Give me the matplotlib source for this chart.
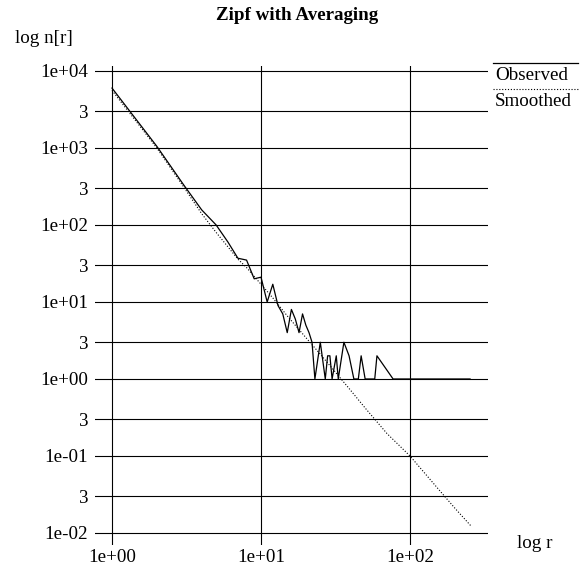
import matplotlib
matplotlib.use("Agg")
import matplotlib.pyplot as plt
from matplotlib.lines import Line2D

plt.rcParams["font.family"] = ["Liberation Serif", "DejaVu Serif"]
FS = 13.7

# frequency r and number of types with that frequency, n[r]
r_obs = [1, 2, 3, 4, 5, 6, 7, 8, 9, 10, 11, 12, 13, 14, 15, 16, 17, 18, 19, 20,
         21, 22, 23, 25, 27, 28, 29, 30, 32, 33, 36, 39, 42, 45, 47, 50, 58, 60,
         77, 95, 120, 160, 253]
n_obs = [6000, 1050, 340, 157, 100, 60, 37, 35, 20, 21, 10, 17, 9, 7, 4, 8, 6, 4, 7, 5,
         4, 3, 1, 3, 1, 2, 2, 1, 2, 1, 3, 2, 1, 1, 2, 1, 1, 2,
         1, 1, 1, 1, 1]

# smoothed (averaged) estimate
r_smooth = [1, 2, 3, 4, 5, 6, 7, 8, 9, 10, 12, 15, 20, 25, 30, 40, 50, 70,
            100, 150, 200, 255]
n_smooth = [5600, 1000, 320, 140, 80, 52, 36, 28, 21.5, 17, 11.3, 6.6, 3.45, 2.1,
            1.38, 0.71, 0.42, 0.196, 0.1, 0.04, 0.021, 0.0125]

x_ticks = [1, 10, 100]
x_labels = ["1e+00", "1e+01", "1e+02"]
y_ticks = [1e-2, 3e-2, 1e-1, 3e-1, 1, 3, 10, 30, 100, 300, 1e3, 3e3, 1e4]
y_labels = ["1e-02", "3", "1e-01", "3", "1e+00", "3", "1e+01", "3",
            "1e+02", "3", "1e+03", "3", "1e+04"]

W, H = 580, 571
fig = plt.figure(figsize=(W / 100, H / 100), dpi=100)
ax = fig.add_axes([95 / W, 1 - 545 / H, 393 / W, 479 / H])
ax.set_xscale("log")
ax.set_yscale("log")
ax.set_xlim(0.769, 333.8)
ax.set_ylim(0.00698, 11610)

for y in y_ticks:
    ax.axhline(y, color="black", lw=0.8, zorder=1)
for x in x_ticks:
    ax.axvline(x, color="black", lw=0.8, zorder=1)

ax.plot(r_obs, n_obs, color="black", lw=0.9, zorder=3)
ax.plot(r_smooth, n_smooth, color="black", lw=0.8, linestyle=(0, (1, 1.6)), zorder=2)

ax.minorticks_off()
ax.set_xticks(x_ticks, x_labels)
ax.set_yticks(y_ticks, y_labels)
ax.tick_params(length=0, labelsize=FS)
ax.tick_params(axis="y", pad=5)
ax.tick_params(axis="x", pad=3)
for s in ax.spines.values():
    s.set_visible(False)

fig.text(297.5 / W, 1 - 20 / H, "Zipf with Averaging", ha="center", va="baseline",
         fontsize=FS, fontweight="bold")
fig.text(15 / W, 1 - 43 / H, "log n[r]", ha="left", va="baseline", fontsize=FS)
fig.text(517 / W, 1 - 548 / H, "log r", ha="left", va="baseline", fontsize=FS)

# key: label text with its line sample drawn above it
fig.add_artist(Line2D([493 / W, 578 / W], [1 - 63 / H, 1 - 63 / H], color="black", lw=0.9))
fig.text(495 / W, 1 - 80 / H, "Observed", ha="left", va="baseline", fontsize=FS)
fig.add_artist(Line2D([493 / W, 578 / W], [1 - 89 / H, 1 - 89 / H], color="black", lw=0.8,
                      linestyle=(0, (1, 1.6))))
fig.text(495 / W, 1 - 106 / H, "Smoothed", ha="left", va="baseline", fontsize=FS)

fig.savefig("out.png", dpi=100)
